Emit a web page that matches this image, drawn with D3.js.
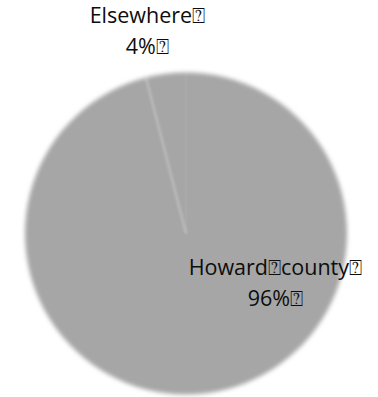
<!DOCTYPE html>
<html>
<head>
<meta charset="utf-8">
<script src="https://cdn.jsdelivr.net/npm/d3@7"></script>
<style>
  html, body { margin: 0; padding: 0; background: #fff; }
  svg { display: block; }
  text { font-family: "Open Sans", Lato, sans-serif; fill: #0d0d0d; }
</style>
</head>
<body>
<svg id="chart" width="378" height="397"></svg>
<script>
// Where the respondents live
const categories = ["Howard\u2370county\u2370", "Elsewhere\u2370"];
const shares = [96, 4];
const shareLabels = ["96%\u2370", "4%\u2370"];
const sliceColors = ["#a6a6a6", "#a6a6a6"];

const width = 378, height = 397;
const cx = 186, cy = 233.5, radius = 161;

const svg = d3.select("#chart");

const defs = svg.append("defs");
defs.append("filter").attr("id", "soft")
  .attr("x", "-10%").attr("y", "-10%").attr("width", "120%").attr("height", "120%")
  .append("feGaussianBlur").attr("stdDeviation", 2);
defs.append("filter").attr("id", "softLine")
  .attr("x", "-20%").attr("y", "-20%").attr("width", "140%").attr("height", "140%")
  .append("feGaussianBlur").attr("stdDeviation", 1);

const data = categories.map((c, i) => ({ name: c, value: shares[i], label: shareLabels[i], color: sliceColors[i] }));

const pie = d3.pie().value(d => d.value).sort(null);
const arcs = pie(data);
const arc = d3.arc().innerRadius(0).outerRadius(radius);

const g = svg.append("g").attr("transform", `translate(${cx},${cy})`);

// slices
g.append("g").attr("filter", "url(#soft)")
  .selectAll("path").data(arcs).join("path")
  .attr("d", arc)
  .attr("fill", d => d.data.color);

// faint light edges where the slices meet
g.append("g").attr("filter", "url(#softLine)")
  .selectAll("path").data(arcs).join("path")
  .attr("d", arc)
  .attr("fill", "none")
  .attr("stroke", "#ffffff")
  .attr("stroke-opacity", d => d.index === 0 ? 0.06 : 0.25)
  .attr("stroke-width", 1.8)
  .attr("stroke-dasharray", d => {
    // keep only the closing radial edge (the slice's start angle)
    const len = radius;
    const arcLen = radius * (d.endAngle - d.startAngle);
    return `0 ${len + arcLen} ${len} 0`;
  });

// labels
const lineH = 31;
const labelPos = [
  [radius * 0.555, radius * 0.26],   // inside the large slice
  [-radius * 0.24, -radius * 1.305]  // above the small slice
];

const labels = g.selectAll("g.lbl").data(arcs).join("g")
  .attr("class", "lbl")
  .attr("transform", (d, i) => `translate(${labelPos[i][0]},${labelPos[i][1]})`);

labels.append("text")
  .attr("text-anchor", "middle")
  .attr("font-size", 21.5)
  .attr("y", 0)
  .text(d => d.data.name);

labels.append("text")
  .attr("text-anchor", "middle")
  .attr("font-size", 21.5)
  .attr("y", lineH)
  .text(d => d.data.label);
</script>
</body>
</html>
